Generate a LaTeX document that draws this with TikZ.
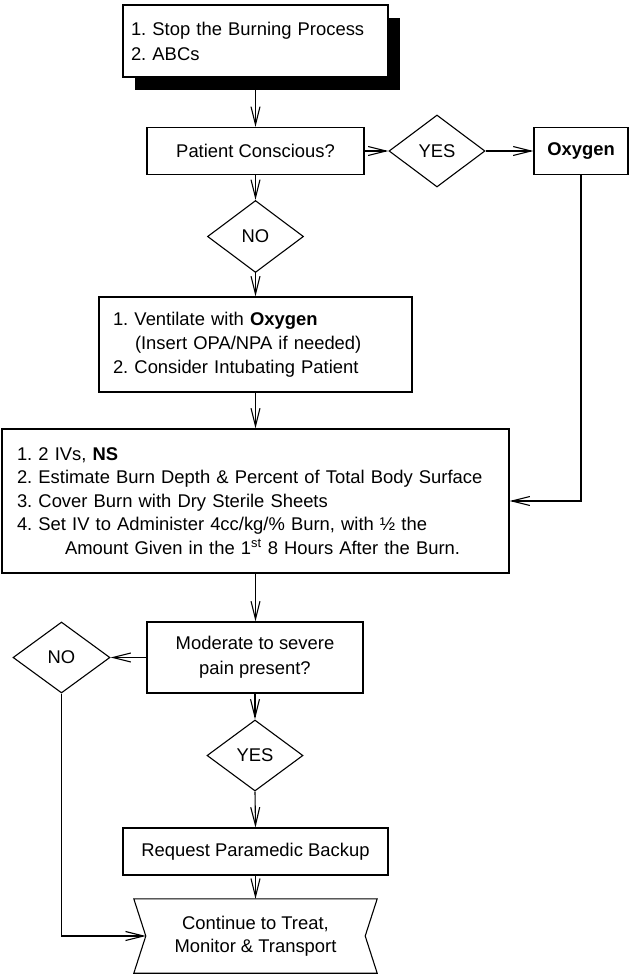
\documentclass[tikz,border=0pt]{standalone}
\usepackage{fontspec}
\setmainfont{Liberation Sans}
\usetikzlibrary{arrows.meta,shapes.geometric,shadows}
\begin{document}
\frenchspacing
\begin{tikzpicture}[x=1pt,y=-1pt,
  every node/.style={font=\fontsize{18.4}{23.4}\selectfont},
  box/.style={draw, line width=1.1pt, fill=white, inner sep=0pt, align=center},
  listbox/.style={box, align=left, inner ysep=0pt},
  choice/.style={diamond, draw, line width=1.1pt, inner sep=0pt,
    minimum width=96pt, minimum height=72pt},
  flow/.style={line width=1.1pt,
    -{Straight Barb[length=18pt,width=9pt,line width=1.1pt]}},
]
\useasboundingbox (0,0) rectangle (629,975);

% first actions, with a solid black drop shadow
\node[listbox, text width=249pt, inner xsep=8pt, minimum height=72pt,
  font=\fontsize{18.4}{25}\selectfont,
  general shadow={fill=black, shadow xshift=12pt, shadow yshift=-13pt}]
  (start) at (255.5,41) {1. Stop the Burning Process\\2. ABCs};

% consciousness check
\node[box, minimum width=217pt, minimum height=47pt] (conscious) at (255.5,151) {Patient Conscious?};
\node[choice] (yesA) at (437,151) {YES};
\node[box, minimum width=94pt, minimum height=47pt] (oxygen) at (581,151) {\textbf{Oxygen}};
\node[choice] (noA) at (255.5,236.5) {NO};

% airway management
\node[listbox, text width=285pt, inner xsep=14pt, minimum height=95pt,
  font=\fontsize{18.4}{24}\selectfont]
  (ventilate) at (255.5,344.5)
  {1. Ventilate with \textbf{Oxygen}\\\hspace*{22pt}(Insert OPA/NPA if needed)\\2. Consider Intubating Patient};

% fluids and wound care
\node[listbox, text width=477pt, inner xsep=15pt, minimum height=144pt]
  (fluids) at (255.5,501)
  {1. 2 IVs, \textbf{NS}\\
   2. Estimate Burn Depth \& Percent of Total Body Surface\\
   3. Cover Burn with Dry Sterile Sheets\\
   4. Set IV to Administer 4cc/kg/\% Burn, with ½ the\\
   \hspace*{48pt}Amount Given in the 1\textsuperscript{st} 8 Hours After the Burn.};

% pain check
\node[box, minimum width=216pt, minimum height=71pt, font=\fontsize{18.4}{25}\selectfont]
  (pain) at (255,657.5) {Moderate to severe\\pain present?};
\node[choice, minimum width=97pt, minimum height=71pt] (noB) at (61.5,657.5) {NO};
\node[choice, minimum height=71pt] (yesB) at (255,755.5) {YES};
\node[box, minimum width=265pt, minimum height=47pt] (backup) at (255.5,851.5) {Request Paramedic Backup};

% final step: box with notched sides
\node[align=center, minimum width=243pt, minimum height=74pt, inner sep=0pt]
  (transport) at (255.5,936) {Continue to Treat,\\Monitor \& Transport};
\draw[line width=1.1pt, line join=miter]
  (transport.north west) -- (transport.north east)
  -- ([xshift=-12pt]transport.east) -- (transport.south east)
  -- (transport.south west) -- ([xshift=12pt]transport.west) -- cycle;
\coordinate (notch) at ([xshift=12pt]transport.west);

% connectors
\draw[flow] (start.south) -- (conscious.north);
\draw[flow] (conscious.east) -- (yesA.west);
\draw[flow] (yesA.east) -- (oxygen.west);
\draw[flow] (conscious.south) -- (noA.north);
\draw[flow] (noA.south) -- (ventilate.north);
\draw[flow] (ventilate.south) -- (fluids.north);
\draw[flow] (oxygen.south) |- (fluids.east);
\draw[flow] (fluids.south) -- (fluids.south |- pain.north);
\draw[flow] (pain.west) -- (noB.east);
\draw[flow] (pain.south) -- (yesB.north);
\draw[flow] (yesB.south) -- (backup.north);
\draw[flow] (backup.south) -- (transport.north);
\draw[flow] (noB.south) |- (notch);
\end{tikzpicture}
\end{document}
